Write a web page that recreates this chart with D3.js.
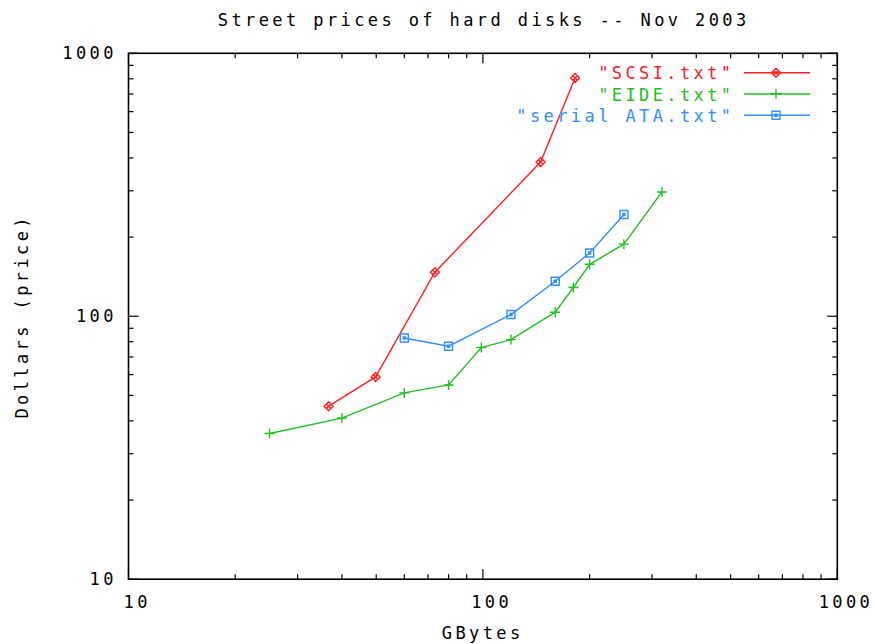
<!DOCTYPE html>
<html>
<head>
<meta charset="utf-8">
<script src="https://cdn.jsdelivr.net/npm/d3@7"></script>
<style>
  body { margin: 0; background: #fff; }
  svg text { font-family: "DejaVu Sans Mono", monospace; font-size: 17px; letter-spacing: 3.4px; fill: #000; }
  .frame { fill: none; stroke: #000; stroke-width: 1.6; }
  .tick { stroke: #000; stroke-width: 1.2; }
  .series { fill: none; stroke-width: 1.4; }
  .mark { fill: none; stroke-width: 1.4; }
</style>
</head>
<body>
<svg width="875" height="644"></svg>
<script>
// values
var scsiGB = [36.7, 49.8, 73.2, 145.5, 182];
var scsiPrice = [45.5, 58.8, 147, 386, 805];

var eideGB = [25, 40, 60, 80, 99, 120, 160, 180, 200, 250, 320];
var eidePrice = [35.8, 41, 51.1, 54.8, 76, 81.5, 103.6, 128.6, 157.6, 188, 297];

var sataGB = [60, 80, 120, 160, 200, 250];
var sataPrice = [82.7, 76.9, 101.5, 135.9, 174, 243.6];

var seriesNames = ["\"SCSI.txt\"", "\"EIDE.txt\"", "\"serial ATA.txt\""];
var seriesColors = ["#ff2020", "#20c020", "#3090ff"];
var seriesMarks = ["diamond", "plus", "square"];

var xTickValues = [10, 100, 1000];
var yTickValues = [10, 100, 1000];

var titleText = "Street prices of hard disks -- Nov 2003";
var xLabel = "GBytes";
var yLabel = "Dollars (price)";

var LS = 3.4; // letter spacing, trailing gap is compensated below

var svg = d3.select("svg");

var plotLeft = 128.5, plotRight = 837.3, plotTop = 53.3, plotBottom = 579.2;

var xScale = d3.scaleLog().domain([10, 1000]).range([plotLeft, plotRight]);
var yScale = d3.scaleLog().domain([10, 1000]).range([plotBottom, plotTop]);

function minorTicks(lo, hi) {
  var out = [];
  for (var d = lo; d < hi; d *= 10) {
    for (var k = 2; k <= 9; k++) out.push(d * k);
  }
  return out;
}

function drawTicks() {
  var g = svg.append("g");
  var xMinor = minorTicks(10, 1000);
  var yMinor = minorTicks(10, 1000);

  function xTick(v, len) {
    g.append("line").attr("class", "tick")
      .attr("x1", xScale(v)).attr("x2", xScale(v))
      .attr("y1", plotBottom).attr("y2", plotBottom - len);
    g.append("line").attr("class", "tick")
      .attr("x1", xScale(v)).attr("x2", xScale(v))
      .attr("y1", plotTop).attr("y2", plotTop + len);
  }
  function yTick(v, len) {
    g.append("line").attr("class", "tick")
      .attr("x1", plotLeft).attr("x2", plotLeft + len)
      .attr("y1", yScale(v)).attr("y2", yScale(v));
    g.append("line").attr("class", "tick")
      .attr("x1", plotRight).attr("x2", plotRight - len)
      .attr("y1", yScale(v)).attr("y2", yScale(v));
  }

  xMinor.forEach(function(v) { xTick(v, 5); });
  yMinor.forEach(function(v) { yTick(v, 5); });
  xTickValues.forEach(function(v) { xTick(v, 10); });
  yTickValues.forEach(function(v) { yTick(v, 10); });

  g.selectAll(".xlab").data(xTickValues).enter().append("text")
    .attr("class", "xlab")
    .attr("x", function(d) { return xScale(d) + 7 + LS / 2; })
    .attr("y", 608)
    .attr("text-anchor", "middle")
    .text(function(d) { return d; });

  g.selectAll(".ylab").data(yTickValues).enter().append("text")
    .attr("class", "ylab")
    .attr("x", 112.5 + LS + 1)
    .attr("y", function(d) { return yScale(d) + 6; })
    .attr("text-anchor", "end")
    .text(function(d) { return d; });
}

function markPath(type) {
  switch(type) {
    case "diamond":
      return "M0,-4.5L4.5,0L0,4.5L-4.5,0Z M-2,-2L2,2 M-2,2L2,-2";
    case "plus":
      return "M-5,0H5 M0,-5V5";
    case "square":
      return "M-4,-4H4V4H-4Z M-1,-1H1V1H-1Z";
    default:
      return "M-4,0H4";
  }
}

function drawSeries(xs, ys, i) {
  var pts = xs.map(function(x, j) { return [x, ys[j]]; });
  var line = d3.line()
    .x(function(d) { return xScale(d[0]); })
    .y(function(d) { return yScale(d[1]); });

  var g = svg.append("g");
  g.append("path")
    .attr("class", "series")
    .attr("d", line(pts))
    .attr("stroke", seriesColors[i]);

  g.selectAll(".mark").data(pts).enter().append("path")
    .attr("class", "mark")
    .attr("d", markPath(seriesMarks[i]))
    .attr("stroke", seriesColors[i])
    .attr("transform", function(d) {
      return "translate(" + xScale(d[0]) + "," + yScale(d[1]) + ")";
    });
}

function drawLegend() {
  var g = svg.append("g");
  seriesNames.forEach(function(name, i) {
    var yText = 79.3 + i * 21.2;
    var yLine = yText - 6.5;
    g.append("text")
      .attr("x", 734.5)
      .attr("y", yText)
      .attr("text-anchor", "end")
      .style("fill", seriesColors[i])
      .text(name);
    g.append("line")
      .attr("x1", 744).attr("x2", 810)
      .attr("y1", yLine).attr("y2", yLine)
      .attr("stroke", seriesColors[i])
      .attr("stroke-width", 1.4);
    g.append("path")
      .attr("class", "mark")
      .attr("d", markPath(seriesMarks[i]))
      .attr("stroke", seriesColors[i])
      .attr("transform", "translate(776," + yLine + ")");
  });
}

drawTicks();

svg.append("rect")
  .attr("class", "frame")
  .attr("x", plotLeft).attr("y", plotTop)
  .attr("width", plotRight - plotLeft).attr("height", plotBottom - plotTop);

drawSeries(scsiGB, scsiPrice, 0);
drawSeries(eideGB, eidePrice, 1);
drawSeries(sataGB, sataPrice, 2);

drawLegend();

svg.append("text")
  .attr("x", 482 + LS / 2)
  .attr("y", 26)
  .attr("text-anchor", "middle")
  .text(titleText);

svg.append("text")
  .attr("x", 481 + LS / 2)
  .attr("y", 639)
  .attr("text-anchor", "middle")
  .text(xLabel);

svg.append("text")
  .attr("transform", "translate(28," + (318 - LS / 2) + ") rotate(-90)")
  .attr("text-anchor", "middle")
  .text(yLabel);
</script>
</body>
</html>
